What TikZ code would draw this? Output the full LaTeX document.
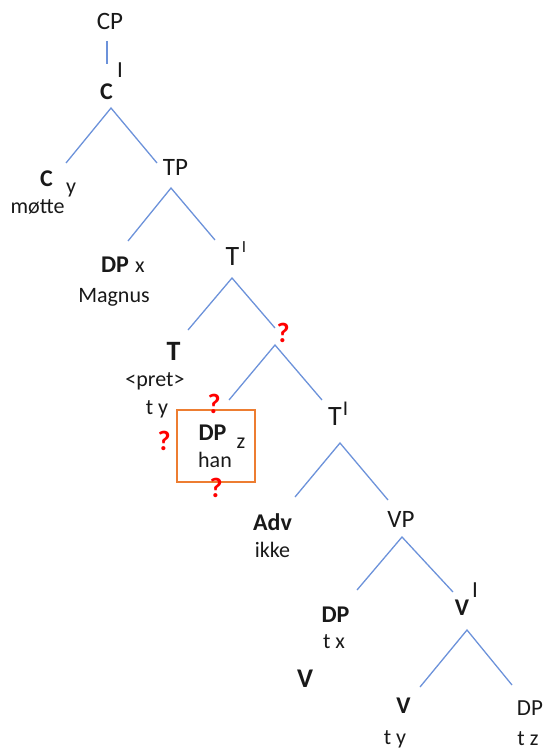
\documentclass[tikz,border=0pt]{standalone}
\usepackage{fontspec}
\setmainfont{Carlito}
\definecolor{branch}{RGB}{108,146,218}
\definecolor{boxorange}{RGB}{237,125,49}
\definecolor{query}{RGB}{255,0,0}
\begin{document}
\begin{tikzpicture}[x=1pt,y=-1pt,
  lbl/.style={inner sep=0pt, anchor=base, text=black!90},
  phrase/.style={lbl, font=\fontsize{25}{30}\selectfont},
  bighead/.style={lbl, font=\fontsize{28}{32}\selectfont},
  head/.style={lbl, font=\fontsize{24}{28}\selectfont\bfseries},
  word/.style={lbl, font=\fontsize{22}{26}\selectfont},
  qmark/.style={lbl, text=query, font=\fontsize{28}{32}\selectfont\bfseries},
  barmark/.style={lbl, font=\fontsize{#1}{#1}\selectfont},
  edge/.style={draw=branch, line width=1.3pt},
  frame/.style={draw=boxorange, line width=1.3pt}]
\useasboundingbox (0,0) rectangle (544,749);

% CP and C-bar
\node[phrase] (cp) at (110,30) {CP};
\node[head] (cbar) at (106.5,100) {C};
\node[barmark=23] (cbarI) at (120,78) {I};
\coordinate (cpLow) at (107,41);
\coordinate (cbarTop) at (107,64);
\draw[edge] (cpLow) -- (cbarTop);
\coordinate (cbarApex) at (111,108);
\coordinate (cEnd) at (66,163);
\coordinate (tpEnd) at (157,163);
\draw[edge] (cEnd) -- (cbarApex) -- (tpEnd);

% C head with moved verb
\node[head] (chead) at (46.5,186) {C};
\node[word] (cidx) at (71,193) {y};
\node[word] (motte) at (37.5,213) {møtte};

% TP
\node[phrase] (tp) at (175.5,175) {TP};
\coordinate (tpApex) at (171,188);
\coordinate (dpxEnd) at (128,241);
\coordinate (tbarEnd) at (215,240);
\draw[edge] (dpxEnd) -- (tpApex) -- (tbarEnd);

% subject DP
\node[head] (dpx) at (115,272) {DP};
\node[word] (dpxidx) at (140,272) {x};
\node[word] (magnus) at (114,302) {Magnus};

% upper T-bar
\node[bighead] (tbar) at (232.5,265) {T};
\node[barmark=17] (tbarI) at (244,252) {I};
\coordinate (tbarApex) at (232,278);
\coordinate (tEnd) at (188,330);
\coordinate (qEnd) at (275,328);
\draw[edge] (tEnd) -- (tbarApex) -- (qEnd);

% unknown projection
\node[qmark] (qnode) at (283,342) {?};
\coordinate (qApex) at (275,345);
\coordinate (specEnd) at (229,400);
\coordinate (tbarLowEnd) at (322,400);
\draw[edge] (specEnd) -- (qApex) -- (tbarLowEnd);

% T head
\node[bighead, font=\fontsize{28}{32}\selectfont\bfseries] (thead) at (173.5,360) {T};
\node[word] (pret) at (155,386) {<pret>};
\node[word] (ty) at (157,414) {t y};

% boxed object DP with its uncertain positions
\draw[frame] (177,410) rectangle (255,482);
\node[qmark] (qtop) at (214,413) {?};
\node[qmark] (qleft) at (164,450) {?};
\node[qmark] (qbottom) at (216,497) {?};
\node[head] (dpz) at (212.5,440) {DP};
\node[word] (dpzidx) at (241,448) {z};
\node[word] (han) at (215,467) {han};

% lower T-bar
\node[bighead] (tbarLow) at (335,425) {T};
\node[barmark=21] (tbarLowI) at (345.5,415) {I};
\coordinate (tbarLowApex) at (340,443);
\coordinate (advEnd) at (295,497);
\coordinate (vpEnd) at (388,500);
\draw[edge] (advEnd) -- (tbarLowApex) -- (vpEnd);

% negation adverb
\node[head] (adv) at (272.5,530) {Adv};
\node[word] (ikke) at (272.5,557) {ikke};

% VP
\node[phrase] (vp) at (401,527) {VP};
\coordinate (vpApex) at (402,537);
\coordinate (dptxEnd) at (357,590);
\coordinate (vbarEnd) at (453,592);
\draw[edge] (dptxEnd) -- (vpApex) -- (vbarEnd);

% VP specifier trace
\node[head] (dptx) at (335.5,622) {DP};
\node[word] (tx) at (334,648) {t x};

% stray V
\node[head, font=\fontsize{27}{30}\selectfont\bfseries] (vlone) at (305,687) {V};

% V-bar
\node[head] (vbar) at (462,615) {V};
\node[barmark=23] (vbarI) at (475,597) {I};
\coordinate (vbarApex) at (467,630);
\coordinate (vEnd) at (420,687);
\coordinate (dpzEnd) at (512,685);
\draw[edge] (vEnd) -- (vbarApex) -- (dpzEnd);

% V head and object trace
\node[head] (vhead) at (403.5,713) {V};
\node[word] (vty) at (395,744) {t y};
\node[phrase, font=\fontsize{23}{27}\selectfont] (dptz) at (530,715) {DP};
\node[word] (tz) at (528,745) {t z};
\end{tikzpicture}
\end{document}
